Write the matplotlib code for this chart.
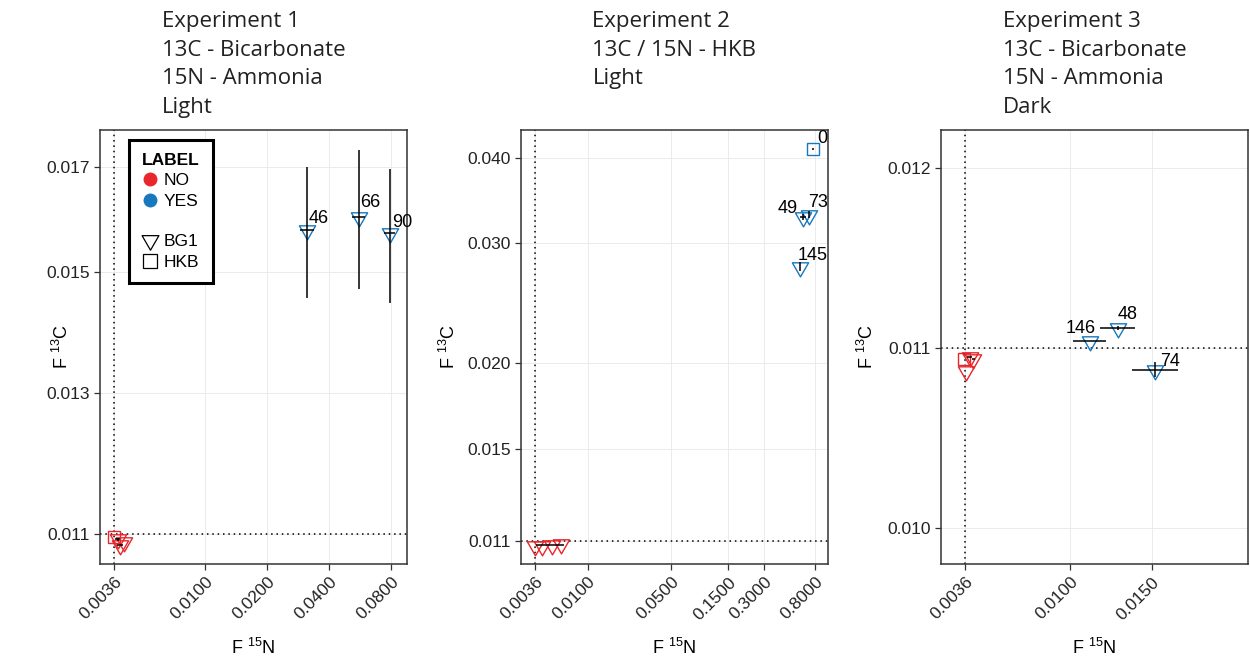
"""
Isotope enrichment (F 13C vs F 15N) of single cells for three labelling
experiments, drawn as three side-by-side panels.
"""

import matplotlib
matplotlib.use('Agg')
import matplotlib.pyplot as plt
from matplotlib.lines import Line2D
from matplotlib.path import Path
from matplotlib.ticker import FixedLocator, NullLocator

# ---------------------------------------------------------------------------
# Data
# ---------------------------------------------------------------------------
NAT_15N = 0.0036   # natural abundance reference lines
NAT_13C = 0.011

# Experiment 1: 13C - Bicarbonate, 15N - Ammonia, Light
exp1_ids = ['', '', '', '', '46', '66', '90']
exp1_label = ['NO', 'NO', 'NO', 'NO', 'YES', 'YES', 'YES']
exp1_org = ['HKB', 'BG1', 'BG1', 'BG1', 'BG1', 'BG1', 'BG1']
exp1_f15n = [0.0036, 0.00375, 0.00385, 0.00403, 0.0313, 0.0559, 0.0788]
exp1_f15n_err = [0.0, 0.0001, 0.00012, 0.0, 0.0025, 0.004, 0.005]
exp1_f13c = [0.01096, 0.01093, 0.01086, 0.01090, 0.01578, 0.01602, 0.01571]
exp1_f13c_err = [0.0, 0.00002, 0.0, 0.0, 0.00122, 0.00132, 0.00125]

# Experiment 2: 13C / 15N - HKB, Light
exp2_ids = ['', '', '', '', '0', '49', '73', '145']
exp2_label = ['NO', 'NO', 'NO', 'NO', 'YES', 'YES', 'YES', 'YES']
exp2_org = ['BG1', 'BG1', 'BG1', 'BG1', 'HKB', 'BG1', 'BG1', 'BG1']
exp2_f15n = [0.0036, 0.0041, 0.0050, 0.0060, 0.77, 0.635, 0.712, 0.599]
exp2_f15n_err = [0.0, 0.0, 0.0013, 0.0, 0.0, 0.037, 0.0, 0.0]
exp2_f13c = [0.01082, 0.01083, 0.01087, 0.01088, 0.0412, 0.0328, 0.0330, 0.0277]
exp2_f13c_err = [0.0, 0.0, 0.0, 0.0, 0.0001, 0.00033, 0.0004, 0.0004]

# Experiment 3: 13C - Bicarbonate, 15N - Ammonia, Dark
exp3_ids = ['', '', '', '', '146', '48', '74']
exp3_label = ['NO', 'NO', 'NO', 'NO', 'YES', 'YES', 'YES']
exp3_org = ['HKB', 'BG1', 'BG1', 'BG1', 'BG1', 'BG1', 'BG1']
exp3_f15n = [0.00355, 0.0039, 0.0041, 0.00366, 0.0112, 0.0129, 0.01516]
exp3_f15n_err = [0.0, 0.00015, 0.0001, 0.0, 0.001, 0.00104, 0.0014]
exp3_f13c = [0.01094, 0.01095, 0.01094, 0.01087, 0.01104, 0.01111, 0.01088]
exp3_f13c_err = [0.0, 0.0, 0.0, 0.0, 0.0, 0.00001, 0.00004]

# Axis ticks
exp1_xticks = [0.0036, 0.0100, 0.0200, 0.0400, 0.0800]
exp1_yticks = [0.011, 0.013, 0.015, 0.017]
exp2_xticks = [0.0036, 0.0100, 0.0500, 0.1500, 0.3000, 0.8000]
exp2_yticks = [0.011, 0.015, 0.020, 0.030, 0.040]
exp3_xticks = [0.0036, 0.0100, 0.0150]
exp3_yticks = [0.010, 0.011, 0.012]

exp_titles = [
    'Experiment 1\n13C - Bicarbonate\n15N - Ammonia\nLight',
    'Experiment 2\n13C / 15N - HKB\nLight',
    'Experiment 3\n13C - Bicarbonate\n15N - Ammonia\nDark',
]

# ---------------------------------------------------------------------------
# Style
# ---------------------------------------------------------------------------
COLORS = {'NO': '#E8262B', 'YES': '#1878BE'}
TITLE_FONT = 'Open Sans'
BODY_FONT = 'Liberation Sans'

# ggplot-style downward triangle: centroid sits on the data point
_h = 3 ** 0.5
TRI_DOWN = Path([(-1, _h / 3), (1, _h / 3), (0, -2 * _h / 3), (-1, _h / 3)],
                [Path.MOVETO, Path.LINETO, Path.LINETO, Path.CLOSEPOLY])
MARKERS = {'BG1': (TRI_DOWN, 13.5), 'HKB': ('s', 8.8)}

# per-panel label placement: (ha, dx px, dy px)
label_offsets = [
    {'46': ('left', 1, 7), '66': ('left', 1, 10), '90': ('left', 2, 6)},
    {'0': ('left', 4, 6), '49': ('right', -5, 4), '73': ('left', -1, 8),
     '145': ('left', -2, 7)},
    {'146': ('right', 6, 8), '48': ('left', 0, 9), '74': ('left', 5, 4)},
]
# horizontal position of the y-axis title, in axes fraction
ylabel_x = [-0.091, -0.202, -0.209]

plt.rcParams['font.family'] = BODY_FONT


def draw_panel(ax, title, f15n, f15n_err, f13c, f13c_err, label, org, ids,
               xticks, yticks, xlim, ylim, log, offsets, ylab_x):
    """Draw one experiment panel."""
    if log:
        ax.set_xscale('log')
        ax.set_yscale('log')

    ax.grid(True, color='#EBEBEB', linewidth=0.7, zorder=0)
    ax.set_axisbelow(True)

    # natural abundance references
    ax.axvline(NAT_15N, color='black', linestyle=(0, (1, 2.5)), linewidth=1.1, zorder=1)
    ax.axhline(NAT_13C, color='black', linestyle=(0, (1, 2.5)), linewidth=1.1, zorder=1)

    # points
    for x, y, lab, o in zip(f15n, f13c, label, org):
        marker, ms = MARKERS[o]
        ax.plot(x, y, linestyle='none', marker=marker, markersize=ms,
                markerfacecolor='none', markeredgecolor=COLORS[lab],
                markeredgewidth=1.0, zorder=3)

    # error bars
    ax.errorbar(f15n, f13c, xerr=f15n_err, yerr=f13c_err, fmt='none',
                ecolor='black', elinewidth=1.1, capsize=0, zorder=4)

    # cell ids
    for x, y, txt in zip(f15n, f13c, ids):
        if not txt:
            continue
        ha, dx, dy = offsets[txt]
        ax.annotate(txt, (x, y), xytext=(dx, dy), textcoords='offset pixels',
                    ha=ha, va='baseline', fontsize=13, zorder=5)

    ax.set_xlim(*xlim)
    ax.set_ylim(*ylim)
    ax.xaxis.set_major_locator(FixedLocator(xticks))
    ax.yaxis.set_major_locator(FixedLocator(yticks))
    ax.xaxis.set_minor_locator(NullLocator())
    ax.yaxis.set_minor_locator(NullLocator())
    ax.set_xticklabels([f'{t:.4f}' for t in xticks], rotation=45, ha='right',
                       rotation_mode='anchor', fontsize=12.5)
    ax.set_yticklabels([f'{t:.3f}' for t in yticks], fontsize=12.5)
    ax.tick_params(length=4, width=0.9, color='#333333', labelcolor='#222222')

    for sp in ax.spines.values():
        sp.set_color('#333333')
        sp.set_linewidth(1.1)

    ax.set_xlabel(r'F $^{\mathregular{15}}$N', fontsize=13, labelpad=11)
    ax.set_ylabel(r'F $^{\mathregular{13}}$C', fontsize=13)
    ax.yaxis.set_label_coords(ylab_x, 0.5)

    # title block: left-aligned lines, centred over the panel, top-aligned
    ax.annotate(title, (0.5, 1.0), xycoords=('axes fraction', 'figure fraction'),
                xytext=(0, -11), textcoords='offset pixels', ha='center',
                va='top', multialignment='left', fontsize=16,
                family=TITLE_FONT, linespacing=1.47, color='#222222')


fig = plt.figure(figsize=(12.5, 6.59), dpi=100)
W, H = 1250, 659
rects = [(100, 130, 407, 564), (521, 130, 828, 564), (941, 130, 1248, 564)]
axes = [fig.add_axes([l / W, 1 - b / H, (r - l) / W, (b - t) / H])
        for l, t, r, b in rects]

draw_panel(axes[0], exp_titles[0], exp1_f15n, exp1_f15n_err, exp1_f13c,
           exp1_f13c_err, exp1_label, exp1_org, exp1_ids, exp1_xticks,
           exp1_yticks, (0.00308, 0.0957), (0.010616, 0.01776), True,
           label_offsets[0], ylabel_x[0])
draw_panel(axes[1], exp_titles[1], exp2_f15n, exp2_f15n_err, exp2_f13c,
           exp2_f13c_err, exp2_label, exp2_org, exp2_ids, exp2_xticks,
           exp2_yticks, (0.00275, 1.028), (0.01018, 0.0439), True,
           label_offsets[1], ylabel_x[1])
draw_panel(axes[2], exp_titles[2], exp3_f15n, exp3_f15n_err, exp3_f13c,
           exp3_f13c_err, exp3_label, exp3_org, exp3_ids, exp3_xticks,
           exp3_yticks, (0.00214, 0.02085), (0.0098, 0.01221), False,
           label_offsets[2], ylabel_x[2])

# Legend (first panel only)
handles = [
    Line2D([], [], linestyle='none', marker='o', markersize=9,
           markerfacecolor=COLORS['NO'], markeredgecolor=COLORS['NO']),
    Line2D([], [], linestyle='none', marker='o', markersize=9,
           markerfacecolor=COLORS['YES'], markeredgecolor=COLORS['YES']),
    Line2D([], [], linestyle='none'),
    Line2D([], [], linestyle='none', marker=TRI_DOWN, markersize=14,
           markerfacecolor='none', markeredgecolor='black', markeredgewidth=0.9),
    Line2D([], [], linestyle='none', marker='s', markersize=10,
           markerfacecolor='none', markeredgecolor='black', markeredgewidth=0.9),
]
leg = axes[0].legend(handles, ['NO', 'YES', '', 'BG1', 'HKB'], title='LABEL',
                     loc='upper left', bbox_to_anchor=(0.094, 0.977),
                     borderaxespad=0, fontsize=12.5, title_fontsize=12.5,
                     handlelength=0.9, handletextpad=0.35, labelspacing=0.3,
                     borderpad=0.75, fancybox=False, framealpha=1,
                     edgecolor='black', alignment='left')
leg.get_title().set_fontweight('bold')
leg.get_frame().set_linewidth(2.2)

fig.savefig('out.png', dpi=100)
